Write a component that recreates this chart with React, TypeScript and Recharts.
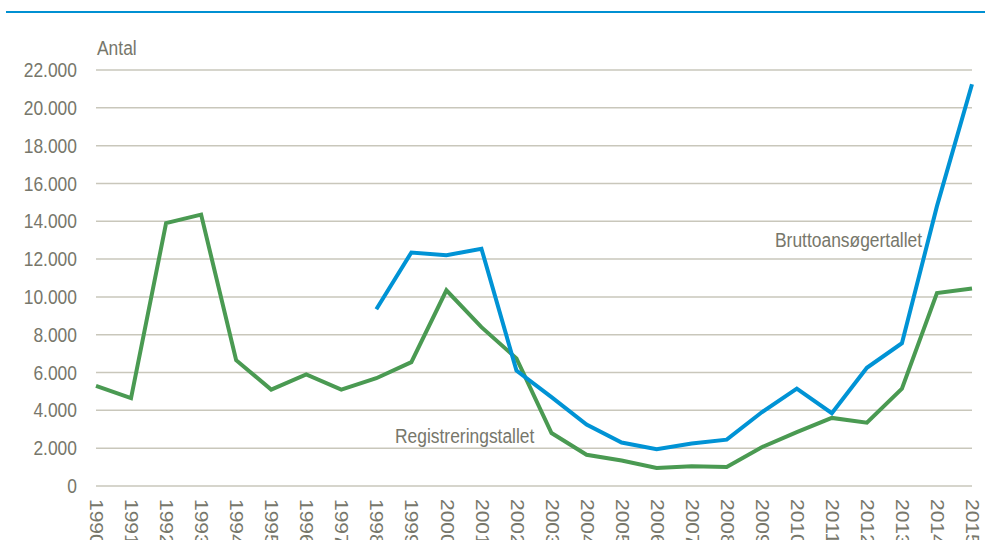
import React from 'react';
import { LineChart, Line, XAxis, YAxis, CartesianGrid } from 'recharts';

const years = [
  '1990', '1991', '1992', '1993', '1994', '1995', '1996', '1997', '1998', '1999', '2000', '2001', '2002',
  '2003', '2004', '2005', '2006', '2007', '2008', '2009', '2010', '2011', '2012', '2013', '2014', '2015',
];

// Registreringstallet (green)
const registrering = [
  5300, 4650, 13900, 14350, 6650, 5100, 5900, 5100, 5700, 6550, 10350, 8400, 6750,
  2800, 1650, 1350, 950, 1050, 1000, 2050, 2850, 3600, 3350, 5150, 10200, 10450,
];

// Bruttoansøgertallet (blue), starts 1998
const brutto = [
  null, null, null, null, null, null, null, null, 9350, 12350, 12200, 12550, 6100,
  4700, 3250, 2300, 1950, 2250, 2450, 3900, 5150, 3850, 6250, 7550, 14800, 21250,
];

const yTicks = [0, 2000, 4000, 6000, 8000, 10000, 12000, 14000, 16000, 18000, 20000, 22000];

const TEXT = '#77776b';
const FONT = '"Liberation Sans", Arial, sans-serif';
const SQUEEZE = 0.83;

const fmt = (v: number) => String(v).replace(/\B(?=(\d{3})+(?!\d))/g, '.');

// labels end at x=77, left of the plot area
const YTick = ({ y, payload }: any) => (
  <text
    transform={`translate(77,${y}) scale(${SQUEEZE},1)`}
    textAnchor='end'
    dominantBaseline='central'
    fill={TEXT}
    fontFamily={FONT}
    fontSize={21}
  >
    {fmt(payload.value)}
  </text>
);

const XTick = ({ x, payload }: any) => (
  <text
    transform={`translate(${x},499) rotate(90) scale(1,${SQUEEZE})`}
    textAnchor='start'
    dominantBaseline='central'
    fill={TEXT}
    fontFamily={FONT}
    fontSize={21}
  >
    {payload.value}
  </text>
);

export default function App() {
  const data = years.map((year, i) => ({ year, registrering: registrering[i], brutto: brutto[i] }));

  return (
    <div style={{ position: 'fixed', left: 0, top: 0, width: 985, height: 540, background: '#fff', overflow: 'hidden' }}>
      <div style={{ position: 'absolute', left: 6, top: 11, width: 979, height: 2, background: '#0090d2' }} />
      <LineChart width={985} height={540} data={data} margin={{ top: 70, right: 13, left: 0, bottom: 0 }}>
        <CartesianGrid vertical={false} stroke='#c9c7bb' strokeWidth={1.5} />
        <XAxis
          dataKey='year'
          axisLine={false}
          tickLine={false}
          interval={0}
          height={54}
          tick={<XTick />}
        />
        <YAxis
          domain={[0, 22000]}
          ticks={yTicks}
          axisLine={false}
          tickLine={false}
          width={96}
          tick={<YTick />}
        />
        <Line
          type='linear'
          dataKey='registrering'
          stroke='#4a9a52'
          strokeWidth={4}
          dot={false}
          isAnimationActive={false}
        />
        <Line
          type='linear'
          dataKey='brutto'
          stroke='#0093d5'
          strokeWidth={4}
          dot={false}
          isAnimationActive={false}
        />
      </LineChart>
      <svg width={985} height={540} style={{ position: 'absolute', left: 0, top: 0, pointerEvents: 'none' }}>
        <text transform={`translate(97,55) scale(${SQUEEZE},1)`} fill={TEXT} fontFamily={FONT} fontSize={21}>
          Antal
        </text>
        <text transform={`translate(395,443) scale(${SQUEEZE},1)`} fill={TEXT} fontFamily={FONT} fontSize={21}>
          Registreringstallet
        </text>
        <text transform={`translate(775,247) scale(${SQUEEZE},1)`} fill={TEXT} fontFamily={FONT} fontSize={21}>
          Bruttoansøgertallet
        </text>
      </svg>
    </div>
  );
}
